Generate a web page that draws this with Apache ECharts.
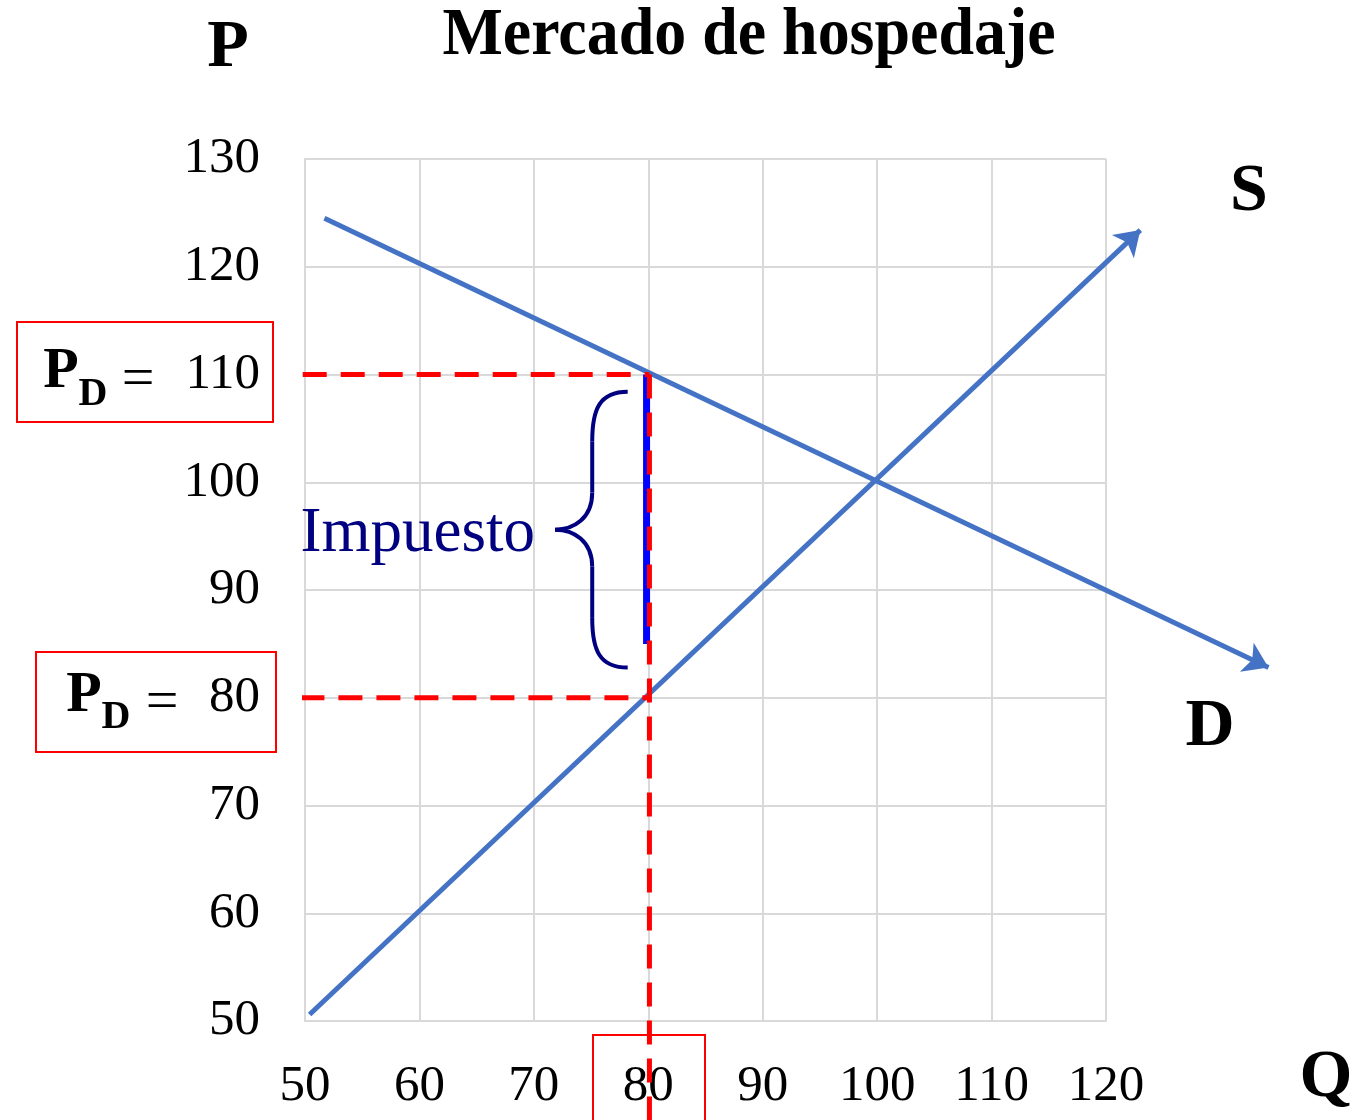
<!DOCTYPE html>
<html>
<head>
<meta charset="utf-8">
<script src="https://cdn.jsdelivr.net/npm/echarts@6/dist/echarts.min.js"></script>
<style>
  html, body { margin: 0; background: #fff; }
  #chart { width: 1365px; height: 1120px; }
</style>
</head>
<body>
<div id="chart"></div>
<script>
// ejes
var qMin = 50, qMax = 120, pMin = 50, pMax = 130, step = 10;

// curvas (Q, P)
var supplyLine = [[50.4, 50.6], [123, 123.4]];
var demandLine = [[51.7, 124.5], [134.2, 82.8]];

// impuesto
var pDemand = 110;
var pSupply = 80;
var taxBar = [[79.85, 110], [79.85, 85]];
var dashDemand = [[49.8, 110], [80.1, 110]];
var dashSupply = [[49.6, 80], [80.1, 80]];
var dashQ = [[80.1, 110], [80.1, 40.5]];

// llave: extremo superior, punta, extremo inferior, columna
var braceTop = [78.2, 108.4];
var braceTip = [71.85, 95.6];
var braceBottom = [78.2, 82.8];
var braceColQ = 75.1;

var serif = '"Liberation Serif", "Times New Roman", serif';
var gridColor = '#d9d9d9';
var curveColor = '#4472C4';
var navy = '#000080';

var chart = echarts.init(document.getElementById('chart'));

var option = {
    animation: false,
    backgroundColor: '#fff',
    grid: { left: 305, top: 159, width: 801, height: 862 },
    xAxis: {
        type: 'value', min: qMin, max: qMax, interval: step,
        axisLine: { lineStyle: { color: gridColor, width: 2 } },
        axisTick: { show: false },
        splitLine: { lineStyle: { color: gridColor, width: 2 } },
        axisLabel: { fontFamily: serif, fontSize: 51, color: '#000', margin: 40 }
    },
    yAxis: {
        type: 'value', min: pMin, max: pMax, interval: step,
        axisLine: { show: true, lineStyle: { color: gridColor, width: 2 } },
        axisTick: { show: false },
        splitLine: { lineStyle: { color: gridColor, width: 2 } },
        axisLabel: { fontFamily: serif, fontSize: 51, color: '#000', margin: 45 }
    },
    series: [
        {
            name: 'dashD', type: 'line', data: dashDemand, clip: false, symbol: 'none', z: 4,
            lineStyle: { color: '#ff0000', width: 5, type: [24, 14] }
        },
        {
            name: 'dashS', type: 'line', data: dashSupply, clip: false, symbol: 'none', z: 4,
            lineStyle: { color: '#ff0000', width: 5, type: [24, 14] }
        },
        {
            name: 'tax', type: 'line', data: taxBar, clip: false, symbol: 'none', z: 3,
            lineStyle: { color: '#0000ff', width: 7 }
        },
        {
            name: 'dashQ', type: 'line', data: dashQ, clip: false, symbol: 'none', z: 4,
            lineStyle: { color: '#ff0000', width: 5, type: [24, 14] }
        },
        {
            name: 'S', type: 'lines', coordinateSystem: 'cartesian2d', clip: false, z: 2,
            symbol: ['none', 'arrow'], symbolSize: 24,
            lineStyle: { color: curveColor, width: 5, opacity: 1 },
            data: [{ coords: supplyLine }]
        },
        {
            name: 'D', type: 'lines', coordinateSystem: 'cartesian2d', clip: false, z: 2,
            symbol: ['none', 'arrow'], symbolSize: 24,
            lineStyle: { color: curveColor, width: 5, opacity: 1 },
            data: [{ coords: demandLine }]
        }
    ]
};
chart.setOption(option);

// llave en píxeles
var t = chart.convertToPixel('grid', braceTop);
var m = chart.convertToPixel('grid', braceTip);
var b = chart.convertToPixel('grid', braceBottom);
var xc = chart.convertToPixel('grid', [braceColQ, braceTip[1]])[0];
var xa = t[0], xt = m[0], yt = t[1], ym = m[1], yb = b[1];
var r = xa - xc, r2 = xc - xt;
var braceStyle = { fill: 'none', stroke: navy, lineWidth: 4 };

function curve(x1, y1, c1x, c1y, c2x, c2y, x2, y2) {
    return {
        type: 'bezierCurve', z: 10,
        shape: { x1: x1, y1: y1, cpx1: c1x, cpy1: c1y, cpx2: c2x, cpy2: c2y, x2: x2, y2: y2 },
        style: braceStyle
    };
}
function seg(x1, y1, x2, y2) {
    return { type: 'line', z: 10, shape: { x1: x1, y1: y1, x2: x2, y2: y2 }, style: braceStyle };
}

var braceParts = [
    curve(xa, yt, xc + r * 0.2, yt, xc, yt + r * 0.5, xc, yt + r * 1.4),
    seg(xc, yt + r * 1.4, xc, ym - r2 * 1.0),
    curve(xc, ym - r2 * 1.0, xc, ym - r2 * 0.3, xt + r2 * 0.5, ym, xt, ym),
    curve(xt, ym, xt + r2 * 0.5, ym, xc, ym + r2 * 0.3, xc, ym + r2 * 1.0),
    seg(xc, ym + r2 * 1.0, xc, yb - r * 1.4),
    curve(xc, yb - r * 1.4, xc, yb - r * 0.5, xc + r * 0.2, yb, xa, yb)
];

var yD = chart.convertToPixel('grid', [qMin, pDemand])[1];
var yS = chart.convertToPixel('grid', [qMin, pSupply])[1];

function txt(x, y, s, size, bold, align, extra) {
    var e = {
        type: 'text', x: x, y: y, z: 10,
        style: {
            text: s, fontFamily: serif, fontSize: size,
            fontWeight: bold ? 'bold' : 'normal', fill: '#000',
            textAlign: align || 'center', textVerticalAlign: 'middle'
        }
    };
    if (extra) { for (var k in extra) e[k] = extra[k]; }
    return e;
}
function box(x, y, w, h) {
    return {
        type: 'rect', z: 10, shape: { x: x, y: y, width: w, height: h },
        style: { fill: 'none', stroke: '#ff0000', lineWidth: 2 }
    };
}

chart.setOption({
    graphic: [
        txt(749, 36, 'Mercado de hospedaje', 68, true, 'center', { scaleX: 0.94 }),
        txt(228, 48, 'P', 68, true),
        txt(1249, 192, 'S', 68, true),
        txt(1210, 727, 'D', 68, true),
        txt(1326, 1078, 'Q', 68, true),
        // P_D = 110
        txt(61, yD - 2, 'P', 58, true),
        txt(93, yD + 20, 'D', 40, true),
        txt(138, yD + 6, '=', 58, false),
        box(17, 322, 256, 100),
        // P_D = 80
        txt(84, yS - 2, 'P', 58, true),
        txt(116, yS + 20, 'D', 40, true),
        txt(162, yS + 6, '=', 58, false),
        box(36, 652, 240, 100),
        // Q = 80
        box(593, 1035, 112, 100),
        {
            type: 'text', x: 535, y: ym + 5, z: 10,
            style: {
                text: 'Impuesto', fontFamily: serif, fontSize: 63, fill: navy,
                textAlign: 'right', textVerticalAlign: 'middle'
            }
        }
    ].concat(braceParts)
});
</script>
</body>
</html>
